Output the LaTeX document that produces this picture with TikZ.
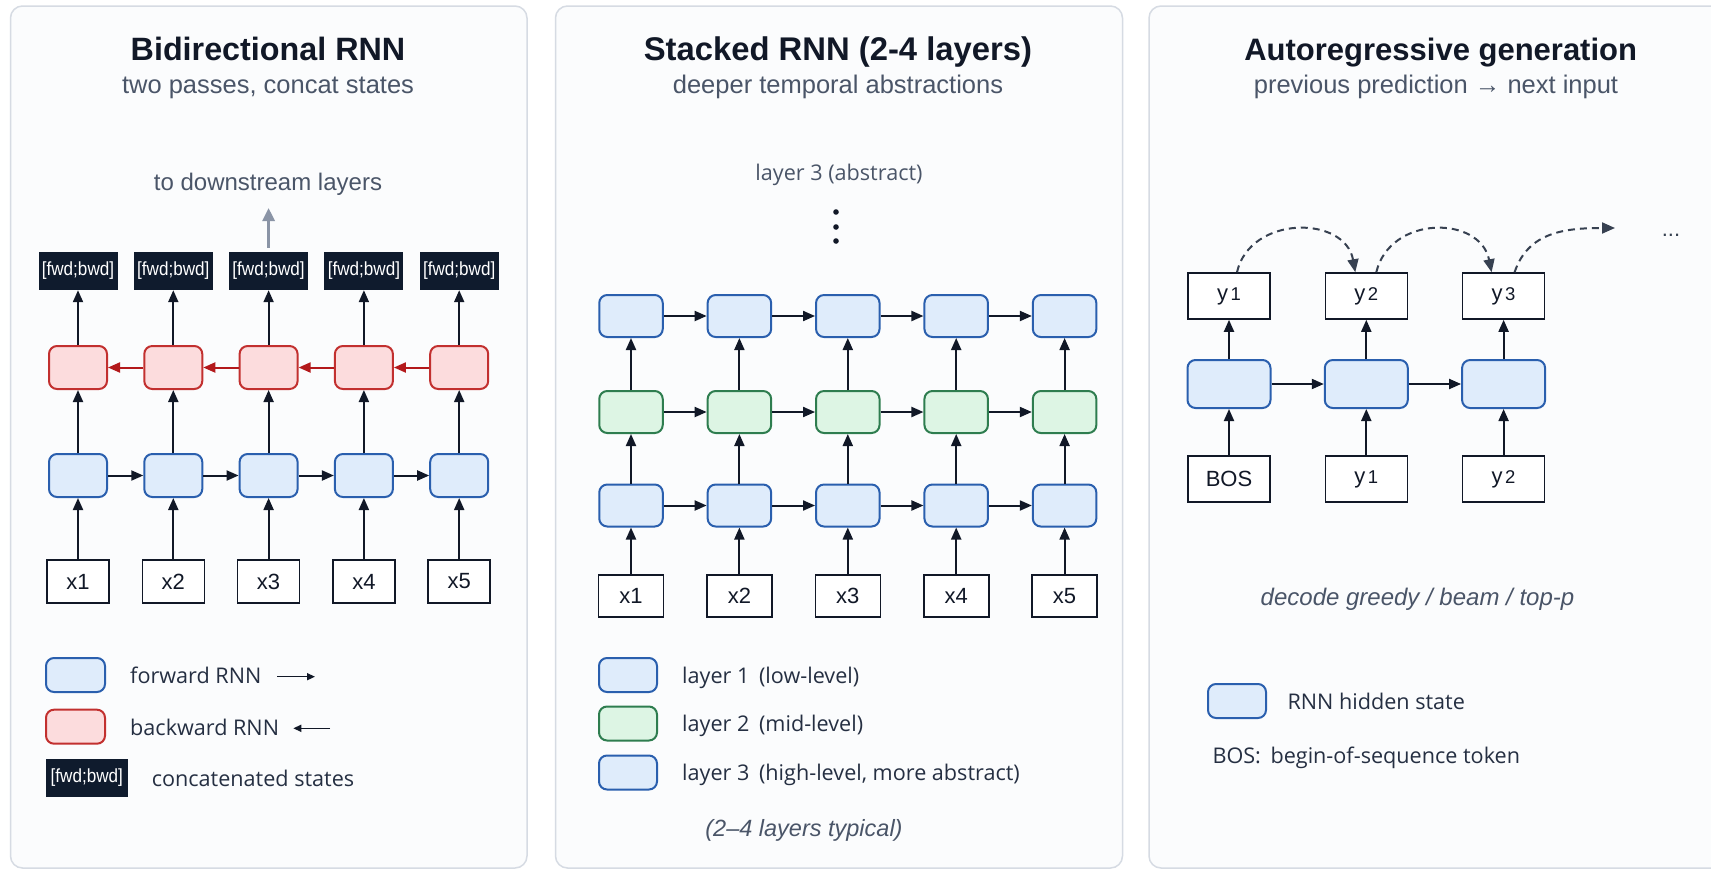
\documentclass[tikz,border=0pt]{standalone}
\usepackage{fontspec}
\setmainfont{Liberation Sans}
\newfontfamily\legfont{Open Sans}
\newfontfamily\narrowfont[FakeStretch=0.9]{Liberation Sans}
\usetikzlibrary{arrows.meta,calc}

\definecolor{ink}{HTML}{111827}
\definecolor{legink}{HTML}{252F42}
\definecolor{slate}{HTML}{4A5568}
\definecolor{panelline}{HTML}{D6DBE3}
\definecolor{panelfill}{HTML}{FBFCFD}
\definecolor{blueline}{HTML}{2A5FAE}
\definecolor{bluefill}{HTML}{DFECFB}
\definecolor{redline}{HTML}{C2302F}
\definecolor{redfill}{HTML}{FCDCDD}
\definecolor{redarrow}{HTML}{B3191B}
\definecolor{greenline}{HTML}{2E7D4F}
\definecolor{greenfill}{HTML}{DDF5E4}
\definecolor{concat}{HTML}{0F1B2D}
\definecolor{upgray}{HTML}{8A94A6}
\definecolor{dashink}{HTML}{374151}

\tikzset{
  panel/.style={draw=panelline, fill=panelfill, line width=1.5pt, rounded corners=12pt},
  cell/.style={rounded corners=8pt, line width=2pt, inner sep=0pt},
  fwdcell/.style={cell, draw=blueline, fill=bluefill},
  bwdcell/.style={cell, draw=redline, fill=redfill},
  midcell/.style={cell, draw=greenline, fill=greenfill},
  tok/.style={draw=ink, fill=white, line width=1.6pt, inner sep=0pt, text=ink,
    font=\fontsize{22}{22}\selectfont},
  catbox/.style={fill=concat, text=white, inner sep=0pt, minimum width=79pt,
    minimum height=38pt, font=\narrowfont\fontsize{19}{19}\selectfont},
  flow/.style={-{Triangle[length=12pt,width=10pt]}, line width=2pt, draw=ink},
  backflow/.style={-{Triangle[length=12pt,width=10pt]}, line width=2pt, draw=redarrow},
  keyarrow/.style={-{Triangle[length=8pt,width=7pt]}, line width=1.5pt, draw=ink},
  feedback/.style={-{Triangle[length=13pt,width=11pt]}, line width=2pt, draw=dashink,
    dash pattern=on 7pt off 5pt},
  uparrow/.style={-{Triangle[length=13pt,width=12pt]}, line width=3pt, draw=upgray},
  title/.style={font=\bfseries\fontsize{32}{36}\selectfont, text=ink, anchor=base},
  subtitle/.style={font=\fontsize{25.5}{30}\selectfont, text=slate, anchor=base},
  note/.style={font=\fontsize{24}{28}\selectfont, text=slate, anchor=base},
  inote/.style={font=\itshape\fontsize{23.5}{28}\selectfont, text=slate, anchor=base},
  legtext/.style={font=\legfont\fontsize{21.6}{24}\selectfont, text=legink, anchor=base west},
  swatch/.style={minimum width=58pt, minimum height=34pt},
}

\begin{document}
\begin{tikzpicture}[x=1pt,y=-1pt]
\useasboundingbox (0,0) rectangle (1711,871);
\clip (0,0) rectangle (1711,871);
\fill[white] (0,0) rectangle (1711,871);

% ---------- three panels ----------
\draw[panel] (10.5,6) rectangle (527,868);
\draw[panel] (555.5,6) rectangle (1122.5,868);
\draw[panel] (1149,6) rectangle (1760,868);

% ================= Bidirectional RNN =================
\node[title, font=\bfseries\fontsize{32.3}{36}\selectfont] (t1) at (268,60) {Bidirectional RNN};
\node[subtitle] (s1) at (268,93) {two passes, concat states};
\node[note] (down) at (268,190.7) {to downstream layers};

\foreach \i/\x in {1/78,2/173.3,3/268.6,4/363.9,5/459.2}{
  \node[catbox] (cat\i) at (\x,271) {[fwd;bwd]};
  \node[bwdcell, minimum width=58pt, minimum height=43pt] (bw\i) at (\x,367.5) {};
  \node[fwdcell, minimum width=58pt, minimum height=43pt] (fw\i) at (\x,475.5) {};
  \node[tok, minimum width=62pt, minimum height=43pt] (x\i) at (\x,581.5) {x\i};
  \draw[flow] (x\i) -- (fw\i);
  \draw[flow] (fw\i) -- (bw\i);
  \draw[flow] (bw\i) -- (cat\i);
}
\foreach \i/\j in {1/2,2/3,3/4,4/5}{
  \draw[flow] (fw\i) -- (fw\j);
  \draw[backflow] (bw\j) -- (bw\i);
}
\coordinate (upTail) at ($(cat3.north)+(0,-4)$);
\coordinate (upTip) at (268.6,208);
\draw[uparrow] (upTail) -- (upTip);

% legend
\node[fwdcell, swatch, minimum width=59pt] (kf) at (75.5,675) {};
\node[legtext] (kft) at (126.7,683.3) {forward RNN};
\coordinate (kfa) at (277,676.7); \coordinate (kfb) at (315,676.7);
\draw[keyarrow] (kfa) -- (kfb);
\node[bwdcell, swatch, minimum width=59pt] (kb) at (75.5,726.7) {};
\node[legtext] (kbt) at (126.7,735) {backward RNN};
\coordinate (kba) at (330,728.3); \coordinate (kbb) at (293.3,728.3);
\draw[keyarrow] (kba) -- (kbb);
\node[catbox, minimum width=81.7pt, minimum height=37.4pt] (kc) at (86.8,778) {[fwd;bwd]};
\node[legtext] (kct) at (148.3,786) {concatenated states};

% ================= Stacked RNN =================
\node[title, font=\bfseries\fontsize{32.8}{36}\selectfont] (t2) at (838,60) {Stacked RNN (2-4 layers)};
\node[subtitle] (s2) at (838,93) {deeper temporal abstractions};
\node[legtext, anchor=base, text=slate] (l3) at (839,180) {layer 3 (abstract)};
\foreach \k/\y in {1/212,2/227,3/241}{
  \fill[ink] (836,\y) circle[radius=2.8pt];
}

\foreach \i/\x in {1/631,2/739.4,3/847.8,4/956.2,5/1064.6}{
  \node[fwdcell, minimum width=63.5pt, minimum height=42pt] (hc\i) at (\x,316) {};
  \node[midcell, minimum width=63.5pt, minimum height=42pt] (mc\i) at (\x,412) {};
  \node[fwdcell, minimum width=63.5pt, minimum height=42pt] (lc\i) at (\x,505.5) {};
  \node[tok, minimum width=65pt, minimum height=42pt] (sx\i) at (\x,596) {x\i};
  \draw[flow] (sx\i) -- (lc\i);
  \draw[flow] (lc\i) -- (mc\i);
  \draw[flow] (mc\i) -- (hc\i);
}
\foreach \i/\j in {1/2,2/3,3/4,4/5}{
  \draw[flow] (hc\i) -- (hc\j);
  \draw[flow] (mc\i) -- (mc\j);
  \draw[flow] (lc\i) -- (lc\j);
}

% legend
\node[fwdcell, swatch] (k1) at (628,675) {};
\node[legtext] (k1t) at (678.7,683) {layer 1\hspace{4pt} (low-level)};
\node[midcell, swatch] (k2) at (628,723.5) {};
\node[legtext] (k2t) at (678.7,731.5) {layer 2\hspace{4pt} (mid-level)};
\node[fwdcell, swatch] (k3) at (628,772.5) {};
\node[legtext] (k3t) at (678.7,780.5) {layer 3\hspace{4pt} (high-level, more abstract)};
\node[inote] (typ) at (804,836) {(2–4 layers typical)};

% ================= Autoregressive generation =================
\node[title, font=\bfseries\fontsize{31}{36}\selectfont] (t3) at (1440.7,60) {Autoregressive generation};
\node[subtitle] (s3) at (1436,93) {previous prediction → next input};

\newcommand{\ytok}[1]{y\kern2.5pt{\fontsize{18.5}{18.5}\selectfont #1}}
\node[tok, minimum width=82pt, minimum height=46pt] (y1) at (1229,296) {\ytok{1}};
\node[tok, minimum width=82pt, minimum height=46pt] (y2) at (1366.3,296) {\ytok{2}};
\node[tok, minimum width=82pt, minimum height=46pt] (y3) at (1503.6,296) {\ytok{3}};
\node[fwdcell, minimum width=83pt, minimum height=48pt] (h1) at (1229,384) {};
\node[fwdcell, minimum width=83pt, minimum height=48pt] (h2) at (1366.3,384) {};
\node[fwdcell, minimum width=83pt, minimum height=48pt] (h3) at (1503.6,384) {};
\node[tok, minimum width=82pt, minimum height=46pt] (bos) at (1229,479) {BOS};
\node[tok, minimum width=82pt, minimum height=46pt] (in2) at (1366.3,479) {\ytok{1}};
\node[tok, minimum width=82pt, minimum height=46pt] (in3) at (1503.6,479) {\ytok{2}};

\draw[flow] (bos) -- (h1);
\draw[flow] (in2) -- (h2);
\draw[flow] (in3) -- (h3);
\draw[flow] (h1) -- (y1);
\draw[flow] (h2) -- (y2);
\draw[flow] (h3) -- (y3);
\draw[flow] (h1) -- (h2);
\draw[flow] (h2) -- (h3);

% predictions fed back as the next inputs
\draw[feedback] ($(y1.north)+(8,0)$) .. controls (1250,215) and (1345,215) .. ($(y2.north)+(-11,0)$);
\draw[feedback] ($(y2.north)+(10,0)$) .. controls (1390,215) and (1480,215) .. ($(y3.north)+(-12,0)$);
\coordinate (nextTip) at (1615,228);
\draw[feedback] ($(y3.north)+(11,0)$) .. controls (1528,232) and (1565,228) .. (nextTip);
\node[font=\fontsize{22}{22}\selectfont, text=dashink] (more) at (1671,235) {...};

\node[inote, font=\itshape\fontsize{24}{28}\selectfont] (dec) at (1417.5,605) {decode greedy / beam / top-p};

% legend
\node[fwdcell, swatch] (kh) at (1237,701) {};
\node[legtext] (kht) at (1284,709) {RNN hidden state};
\node[legtext] (bosnote) at (1209,763) {BOS:\hspace{4pt} begin-of-sequence token};
\end{tikzpicture}
\end{document}
